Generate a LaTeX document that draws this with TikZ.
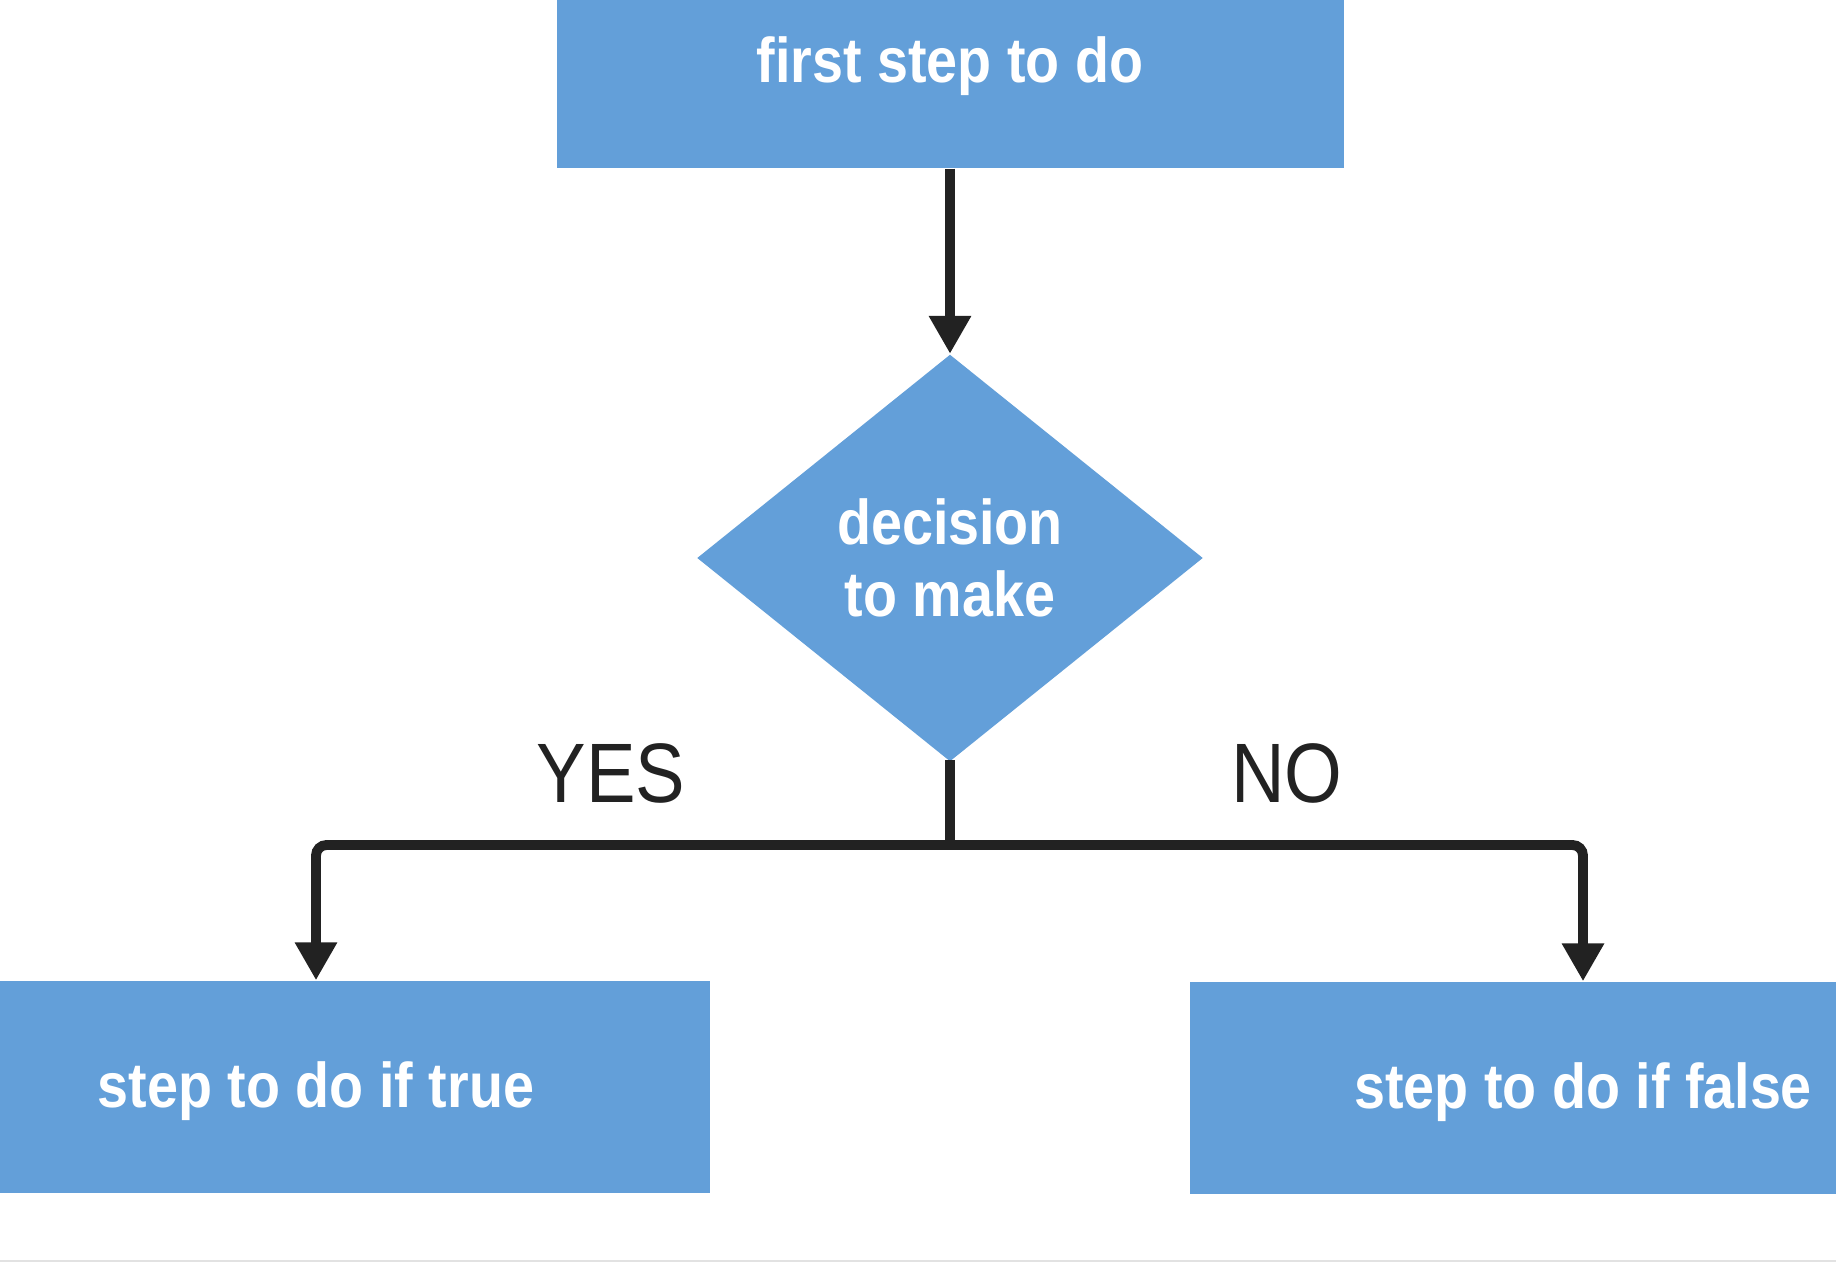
\documentclass[tikz,border=0pt]{standalone}
\usepackage{fontspec}
\setmainfont{Liberation Sans}
\newfontfamily\boxfont{Liberation Sans Bold}[FakeStretch=0.88]
\newfontfamily\labelfont{Liberation Sans}[FakeStretch=0.88]
\usetikzlibrary{arrows.meta, shapes}
\definecolor{boxblue}{RGB}{99, 159, 217}
\definecolor{linedark}{RGB}{34, 34, 34}
\definecolor{rulegray}{RGB}{226, 226, 226}

\begin{document}
\begin{tikzpicture}[
        stepbox/.style={rectangle, fill=boxblue, text=white, inner sep=0pt,
            font=\boxfont\fontsize{18}{22}\selectfont,
            text height=0.56cm, text depth=0.14cm,
            minimum width=7.87cm, minimum height=2.12cm},
        decisionbox/.style={diamond, fill=boxblue, text=white, inner sep=0pt,
            align=center, font=\boxfont\fontsize{18}{20.5}\selectfont,
            minimum width=5.06cm, minimum height=4.07cm},
        flow/.style={line width=2.8pt, linedark, rounded corners=3pt,
            -{Triangle[length=0.38cm, width=0.40cm]}},
        branch/.style={font=\labelfont\fontsize{24}{28}\selectfont, text=linedark}
    ]
        % 画布
        \useasboundingbox (0,0) rectangle (18.36,-12.80);
        \fill[white] (0,0) rectangle (18.36,-12.80);

        % 步骤框
        \node[stepbox] (first) at (9.50,-0.62) {first step to do};
        \node[decisionbox] (decide) at (9.50,-5.58) {decision\\to make};
        \node[stepbox] (yesbox) at (3.16,-10.87) {step to do if true};
        \node[stepbox] (nobox) at (15.83,-10.88) {step to do if false};

        % 分支标签
        \node[branch] (yes) at (6.11,-7.73) {YES};
        \node[branch] (no) at (12.87,-7.73) {NO};

        % 连线
        \coordinate (split) at (9.50,-8.45);
        \draw[flow] (first.south) -- (decide.north);
        \draw[line width=2.8pt, linedark] ([yshift=0.5pt]decide.south) -- (split);
        \draw[flow] (split) -| (yesbox.north);
        \draw[flow] (split) -| (nobox.north);

        % 底部细线
        \draw[rulegray, line width=0.6pt] (0,-12.61) -- (18.36,-12.61);
    \end{tikzpicture}
\end{document}
